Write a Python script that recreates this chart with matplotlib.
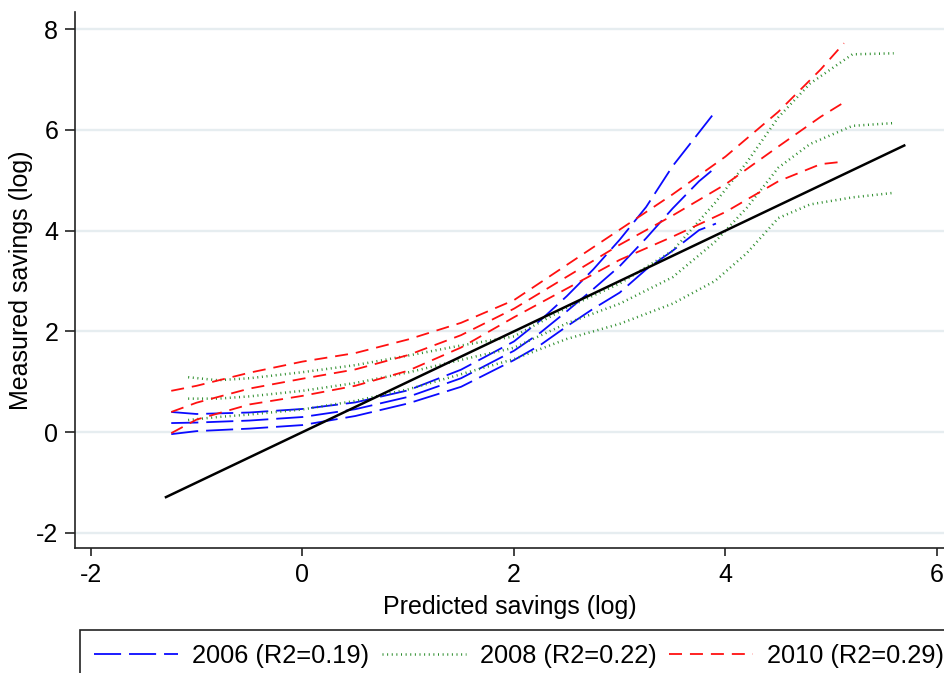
import matplotlib
matplotlib.use("Agg")
import matplotlib.pyplot as plt
from matplotlib.lines import Line2D

# ── Data (fit + upper/lower band per year) ────────────────────────────────────
X_2006 = [-1.24, -1.0, -0.5, 0.0, 0.5, 1.0, 1.5, 2.0, 2.25, 2.5, 2.75, 3.0, 3.25, 3.5, 3.75, 3.91]
HI_2006 = [0.40, 0.36, 0.39, 0.46, 0.59, 0.83, 1.24, 1.80, 2.22, 2.70, 3.23, 3.82, 4.47, 5.28, 5.95, 6.38]
FIT_2006 = [0.18, 0.19, 0.23, 0.30, 0.455, 0.70, 1.07, 1.615, 1.975, 2.40, 2.84, 3.295, 3.85, 4.44, 4.98, 5.26]
LO_2006 = [-0.04, 0.02, 0.07, 0.14, 0.32, 0.57, 0.90, 1.43, 1.73, 2.10, 2.45, 2.77, 3.23, 3.60, 4.01, 4.14]

X_2008 = [-1.08, -0.8, -0.5, 0.0, 0.5, 1.0, 1.5, 2.0, 2.5, 3.0, 3.5, 3.9, 4.2, 4.5, 4.8, 5.2, 5.59]
HI_2008 = [1.09, 1.03, 1.07, 1.19, 1.33, 1.52, 1.72, 1.90, 2.47, 2.95, 3.60, 4.55, 5.35, 6.25, 6.92, 7.50, 7.52]
FIT_2008 = [0.665, 0.665, 0.71, 0.82, 0.975, 1.185, 1.435, 1.675, 2.16, 2.55, 3.075, 3.775, 4.45, 5.25, 5.72, 6.08, 6.135]
LO_2008 = [0.24, 0.30, 0.35, 0.45, 0.62, 0.85, 1.15, 1.45, 1.85, 2.15, 2.55, 3.00, 3.55, 4.25, 4.52, 4.66, 4.75]

X_2010 = [-1.24, -1.0, -0.5, 0.0, 0.5, 1.0, 1.5, 2.0, 2.5, 3.0, 3.5, 4.0, 4.5, 4.9, 5.12]
HI_2010 = [0.82, 0.92, 1.18, 1.40, 1.57, 1.84, 2.17, 2.62, 3.32, 4.02, 4.72, 5.47, 6.36, 7.20, 7.72]
FIT_2010 = [0.40, 0.585, 0.865, 1.06, 1.245, 1.53, 1.925, 2.45, 3.085, 3.72, 4.30, 4.92, 5.67, 6.26, 6.545]
LO_2010 = [-0.02, 0.25, 0.55, 0.72, 0.92, 1.22, 1.68, 2.28, 2.85, 3.42, 3.88, 4.37, 4.98, 5.32, 5.37]

# 45-degree reference line
DIAG_X = [-1.29, 5.69]
DIAG_Y = [-1.29, 5.69]

LABELS = ["2006 (R2=0.19)", "2008 (R2=0.22)", "2010 (R2=0.29)"]
X_TICKS = [-2, 0, 2, 4, 6]
Y_TICKS = [-2, 0, 2, 4, 6, 8]

# ── Styles ────────────────────────────────────────────────────────────────────
BLUE = "#0a0aff"
GREEN = "#2a8c2a"
RED = "#ff1010"
GRID = "#e6edf0"
LW = 1.3
LW_DOT = 1.8
LONGDASH = (0, (15, 4.4))
DOT = (0, (0.4, 1.45))
DASH = (0, (7.2, 4.4))
FS = 18
FS_LEG = 18.3

plt.rcParams["font.family"] = ["Liberation Sans", "DejaVu Sans"]

W, H = 944, 673
fig = plt.figure(figsize=(W / 100, H / 100), dpi=100)
fig.patch.set_facecolor("white")
# axes box: left spine at x=75px, x-axis at y=548px, top of y-axis at y=12px
ax = fig.add_axes([75 / W, (H - 548) / H, (W - 75) / W, (548 - 12) / H])

ax.set_xlim(-2.15, 6.066)
ax.set_ylim(-2.30, 8.34)

for yt in Y_TICKS:
    ax.axhline(yt, color=GRID, lw=1.7, zorder=0)

series = [
    (X_2006, (HI_2006, FIT_2006, LO_2006), BLUE, LONGDASH, LW),
    (X_2008, (HI_2008, FIT_2008, LO_2008), GREEN, DOT, LW_DOT),
    (X_2010, (HI_2010, FIT_2010, LO_2010), RED, DASH, LW),
]
for xs, ys_set, col, ls, lw in series:
    for ys in ys_set:
        ax.plot(xs, ys, color=col, linestyle=ls, lw=lw, zorder=2)

ax.plot(DIAG_X, DIAG_Y, color="black", lw=1.8, zorder=3)

# ── Axes styling (Stata-like) ────────────────────────────────────────────────
for side in ("top", "right"):
    ax.spines[side].set_visible(False)
for side in ("left", "bottom"):
    ax.spines[side].set_linewidth(1.2)
    ax.spines[side].set_color("#222222")

ax.set_xticks(X_TICKS)
ax.set_xticklabels([str(t) for t in X_TICKS])
ax.set_yticks(Y_TICKS)
ax.set_yticklabels([str(t) for t in Y_TICKS])
ax.tick_params(axis="x", length=5.5, width=1.2, pad=5, labelsize=FS, color="#222222")
ax.tick_params(axis="y", length=7, width=1.2, pad=5, labelsize=FS, color="#222222")

ax.set_xlabel("Predicted savings (log)", fontsize=FS, labelpad=6)
ax.set_ylabel("Measured savings (log)", fontsize=FS, labelpad=2)

handles = [
    Line2D([0], [0], color=BLUE, linestyle=LONGDASH, lw=LW),
    Line2D([0], [0], color=GREEN, linestyle=DOT, lw=LW_DOT),
    Line2D([0], [0], color=RED, linestyle=DASH, lw=LW),
]
leg = fig.legend(
    handles, LABELS,
    loc="upper left",
    bbox_to_anchor=(80 / W, 1 - 630 / H),
    ncol=3,
    fontsize=FS_LEG,
    frameon=True,
    fancybox=False,
    edgecolor="#222222",
    framealpha=1,
    handlelength=3.3,
    handletextpad=0.55,
    columnspacing=0.5,
    borderpad=0.55,
    borderaxespad=0,
)
leg.get_frame().set_linewidth(1.2)

fig.savefig("out.png", dpi=100)
